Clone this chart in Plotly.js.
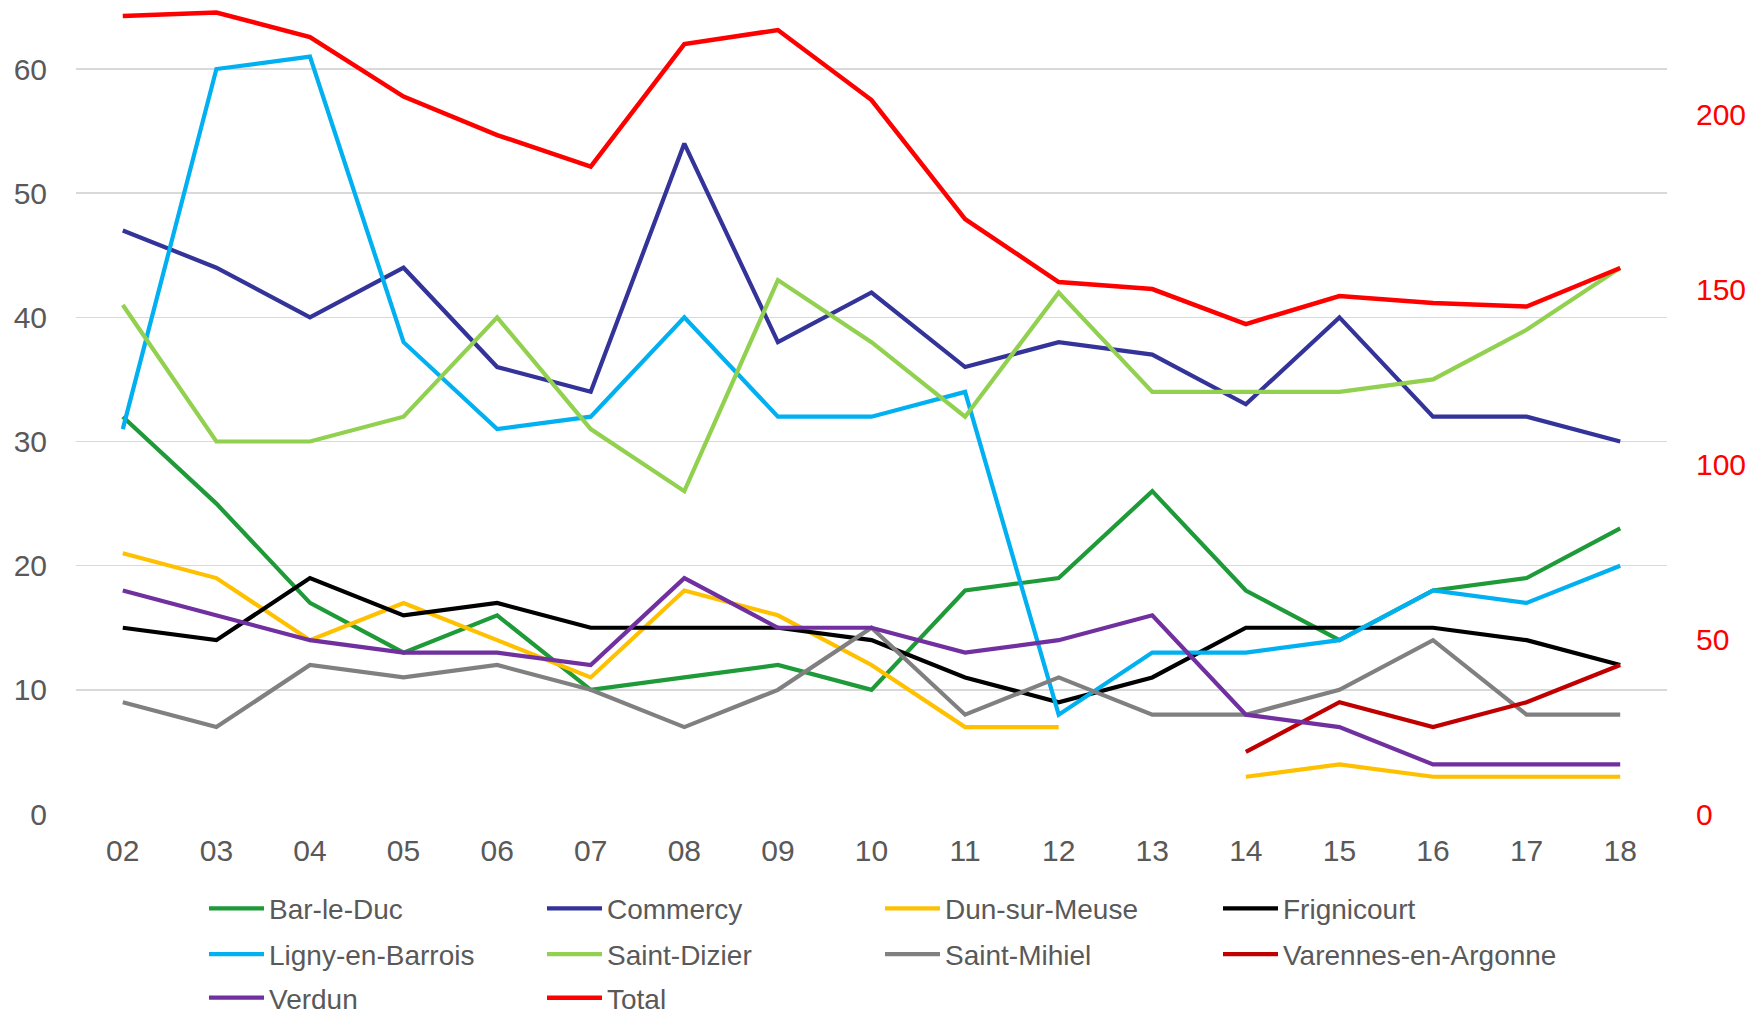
<!DOCTYPE html>
<html>
<head>
<meta charset="utf-8">
<script src="https://cdn.plot.ly/plotly-3.0.1.min.js"></script>
<style>html,body{margin:0;padding:0;background:#fff;}#chart{width:1750px;height:1016px;}</style>
</head>
<body>
<div id="chart"></div>
<script>
const years = ['02','03','04','05','06','07','08','09','10','11','12','13','14','15','16','17','18'];

const barLeDuc     = [32,25,17,13,16,10,11,12,10,18,19,26,18,14,18,19,23];
const commercy     = [47,44,40,44,36,34,54,38,42,36,38,37,33,40,32,32,30];
const dunSurMeuse  = [21,19,14,17,14,11,18,16,12,7,7,null,3,4,3,3,3];
const frignicourt  = [15,14,19,16,17,15,15,15,14,11,9,11,15,15,15,14,12];
const lignyEnBarrois = [31,60,61,38,31,32,40,32,32,34,8,13,13,14,18,17,20];
const saintDizier  = [41,30,30,32,40,31,26,43,38,32,42,34,34,34,35,39,44];
const saintMihiel  = [9,7,12,11,12,10,7,10,15,8,11,8,8,10,14,8,8];
const varennes     = [null,null,null,null,null,null,null,null,null,null,null,null,5,9,7,9,12];
const verdun       = [18,16,14,13,13,12,19,15,15,13,14,16,8,7,4,4,4];
const total        = [228,229,222,205,194,185,220,224,204,170,152,150,140,148,146,145,156];

const leftTicks  = [0,10,20,30,40,50,60];
const rightTicks = [0,50,100,150,200];

const series = [
  {name:'Bar-le-Duc', y:barLeDuc, color:'#1e9a38', legend:'legend'},
  {name:'Commercy', y:commercy, color:'#333399', legend:'legend'},
  {name:'Dun-sur-Meuse', y:dunSurMeuse, color:'#ffc000', legend:'legend'},
  {name:'Frignicourt', y:frignicourt, color:'#000000', legend:'legend'},
  {name:'Ligny-en-Barrois', y:lignyEnBarrois, color:'#00b0f0', legend:'legend2'},
  {name:'Saint-Dizier', y:saintDizier, color:'#92d050', legend:'legend2'},
  {name:'Saint-Mihiel', y:saintMihiel, color:'#808080', legend:'legend2'},
  {name:'Varennes-en-Argonne', y:varennes, color:'#c00000', legend:'legend2'},
  {name:'Verdun', y:verdun, color:'#7030a0', legend:'legend3'}
];

const traces = series.map(s => ({
  type:'scatter', mode:'lines', name:s.name, x:years, y:s.y,
  line:{color:s.color, width:4.2}, connectgaps:false, yaxis:'y', legend:s.legend
}));
traces.push({
  type:'scatter', mode:'lines', name:'Total', x:years, y:total,
  line:{color:'#ff0000', width:4.5}, yaxis:'y2', legend:'legend3'
});

const W = 1750, H = 1016;
const plotTop = 0, plotBottom = 813.6, plotLeft = 76, plotRight = 1667;
const pxPerLeft = 12.41, pxPerRight = 3.498;
const plotH = plotBottom - plotTop;

const font = 'Liberation Sans, Arial, sans-serif';

function legendRow(centerY) {
  return {
    orientation:'h', xref:'container', yref:'container',
    x:204/W, y:1-((centerY-26)/H), xanchor:'left', yanchor:'top',
    entrywidth:268, entrywidthmode:'pixels', itemwidth:55,
    font:{size:28, color:'#595959', family:font},
    bgcolor:'rgba(0,0,0,0)', borderwidth:0, tracegroupgap:0,
    traceorder:'normal'
  };
}

const layout = {
  width:W, height:H,
  paper_bgcolor:'#ffffff', plot_bgcolor:'#ffffff',
  margin:{l:plotLeft, r:W-plotRight, t:plotTop, b:H-plotBottom, pad:0},
  font:{family:font, color:'#595959', size:28},
  showlegend:true,
  xaxis:{
    type:'category', categoryorder:'array', categoryarray:years,
    range:[-0.5, years.length-0.5],
    showgrid:false, zeroline:false, showline:false, ticks:'',
    tickfont:{size:30, color:'#595959', family:font},
    ticklabelstandoff:16, fixedrange:true
  },
  yaxis:{
    range:[0, plotH/pxPerLeft], tickmode:'array', tickvals:leftTicks,
    ticktext:leftTicks.map(String),
    showgrid:true, gridcolor:'#d9d9d9', gridwidth:1.5,
    zeroline:false, showline:false, ticks:'',
    tickfont:{size:30, color:'#595959', family:font},
    ticklabelstandoff:28, fixedrange:true
  },
  yaxis2:{
    overlaying:'y', side:'right',
    range:[0, plotH/pxPerRight], tickmode:'array', tickvals:rightTicks,
    ticktext:rightTicks.map(String),
    showgrid:false, zeroline:false, showline:false, ticks:'',
    tickfont:{size:30, color:'#ff0000', family:font},
    ticklabelstandoff:28, fixedrange:true
  },
  legend:legendRow(909.6),
  legend2:legendRow(955.4),
  legend3:legendRow(999)
};

Plotly.newPlot('chart', traces, layout, {displayModeBar:false, staticPlot:true});
</script>
</body>
</html>
